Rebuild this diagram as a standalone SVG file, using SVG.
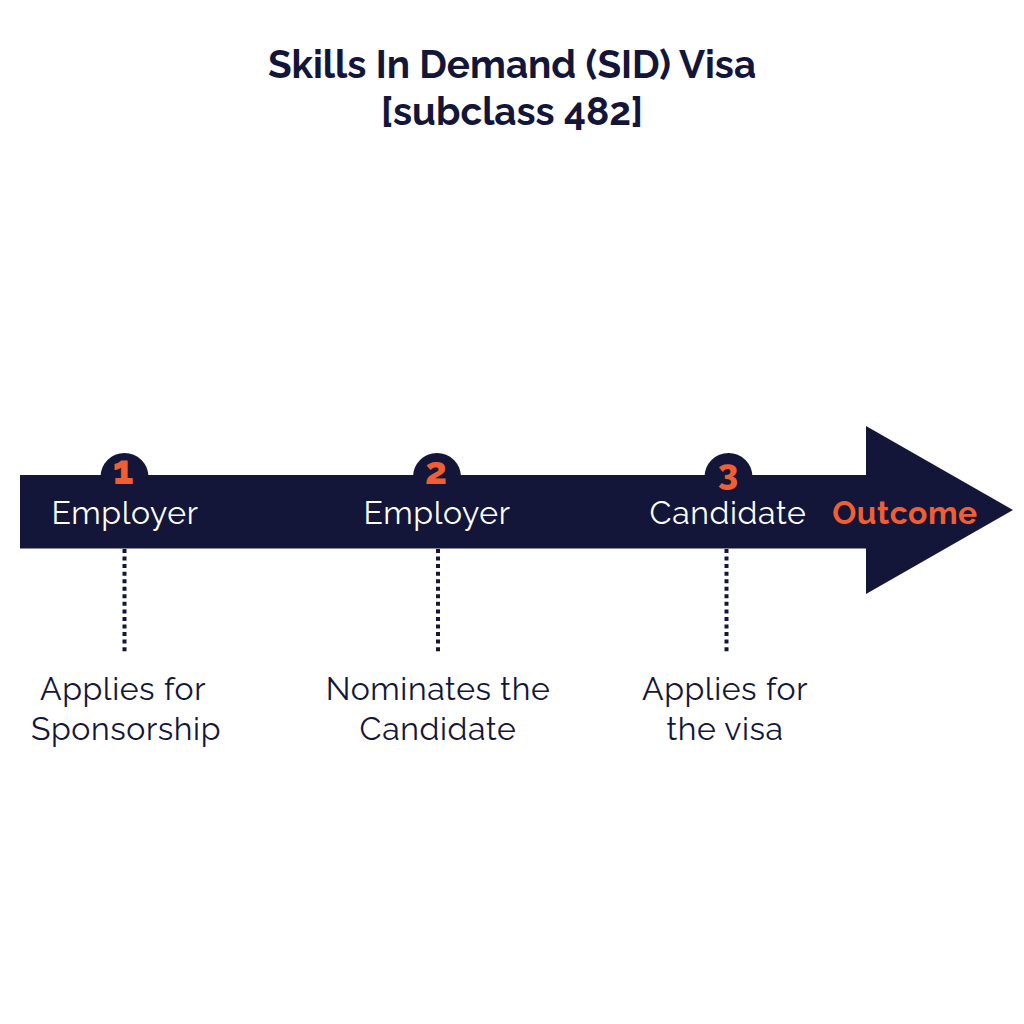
<svg xmlns="http://www.w3.org/2000/svg" width="1024" height="1024" viewBox="0 0 1024 1024">
<style>
text{font-family:"Raleway","Lato","Noto Sans","Liberation Sans",sans-serif;text-anchor:middle}
.t{font-size:38.6px;font-weight:700;fill:#131638}
.w{font-size:32px;fill:#fff;letter-spacing:.6px}
.d{font-size:32px;fill:#131638;letter-spacing:.6px}
.o{font-size:31.8px;font-weight:700;fill:#ef5f33;letter-spacing:.6px}
.n{font-weight:800;fill:#ef5f33}
.c{fill:#131638}
.l{stroke:#131638;stroke-width:4;stroke-dasharray:4 3.55;fill:none}
</style>
<rect width="1024" height="1024" fill="#fff"/>
<g id="title"><text class="t" x="512" y="78">Skills In Demand (SID) Visa</text><text class="t" x="512" y="125">[subclass 482]</text></g>
<g id="arrow"><path class="c" d="M20 475H866V426L1013 510L866 594V548.500H20Z"/></g>
<g id="connectors"><path class="l" d="M124.500 549V652"/><path class="l" d="M438 549V652"/><path class="l" d="M726.500 549V652"/></g>
<g id="step1"><circle class="c" cx="124.500" cy="477" r="24"/><text class="n" font-size="40" x="123" y="484">1</text><text class="w" x="125" y="524">Employer</text><text class="d" x="123" y="700">Applies for</text><text class="d" x="126" y="740">Sponsorship</text></g>
<g id="step2"><circle class="c" cx="437" cy="477" r="24"/><text class="n" font-size="38" x="436" y="484">2</text><text class="w" x="437" y="524">Employer</text><text class="d" x="438" y="700">Nominates the</text><text class="d" x="438" y="740">Candidate</text></g>
<g id="step3"><circle class="c" cx="728.500" cy="477" r="24"/><text class="n" font-size="36" x="728" y="485">3</text><text class="w" x="728" y="524">Candidate</text><text class="d" x="725" y="700">Applies for</text><text class="d" x="725" y="740">the visa</text></g>
<g id="outcome"><text class="o" x="905" y="524">Outcome</text></g>
</svg>
